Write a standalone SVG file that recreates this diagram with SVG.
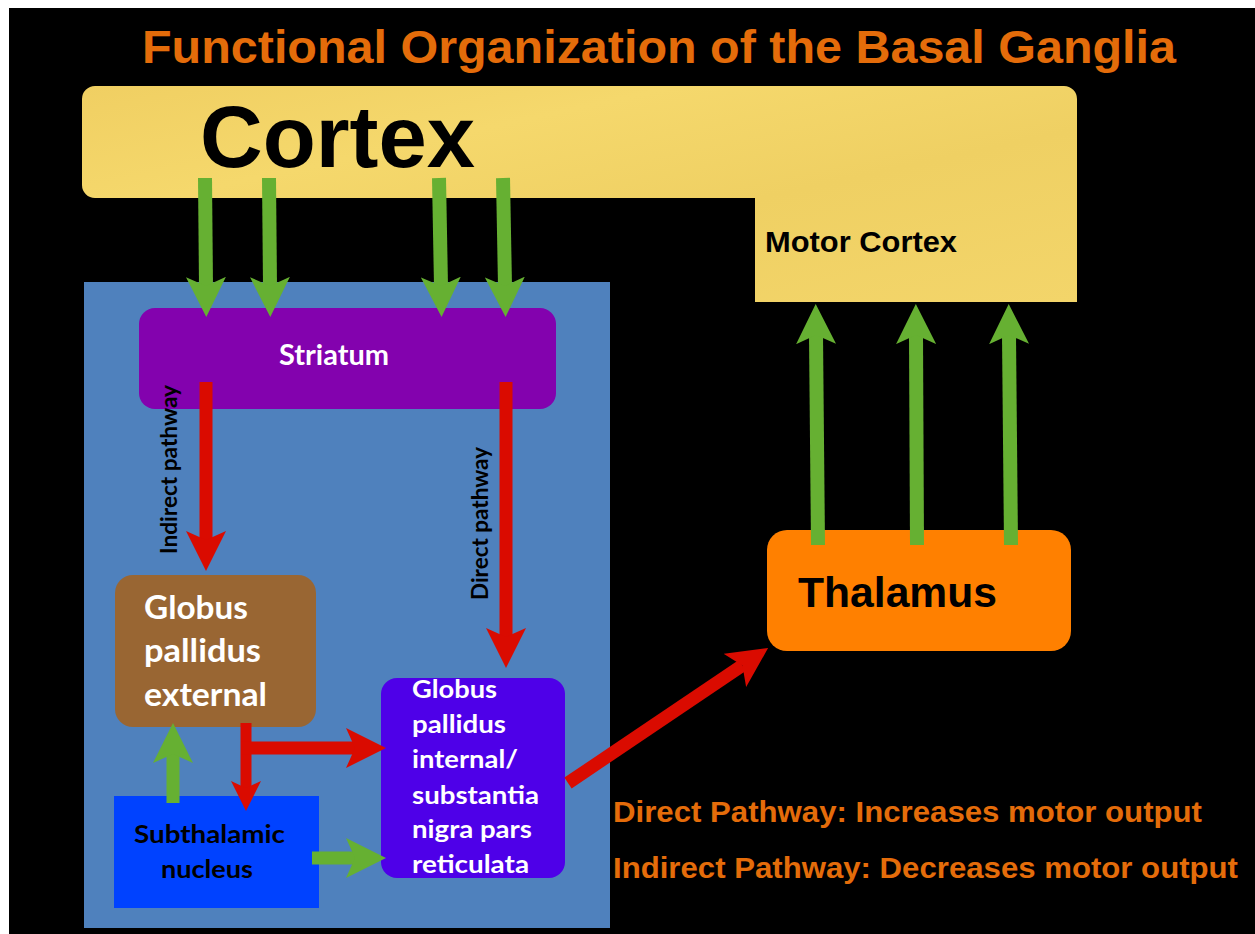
<svg xmlns="http://www.w3.org/2000/svg" width="1255" height="934" viewBox="0 0 1255 934">
<defs>
<linearGradient id="cortexGrad" x1="0" y1="0" x2="1" y2="1">
<stop offset="0" stop-color="#F0CF62"/>
<stop offset="0.3" stop-color="#F5D86C"/>
<stop offset="0.6" stop-color="#EFD063"/>
<stop offset="1" stop-color="#F3D56A"/>
</linearGradient>
<marker id="headGreen" viewBox="0 0 40 40" markerWidth="40" markerHeight="40" refX="9" refY="20" orient="auto" markerUnits="userSpaceOnUse">
<path d="M0,0 L40,20 L0,40 L9,20 Z" fill="#66B032"/>
</marker>
<marker id="headRed" viewBox="0 0 40 40" markerWidth="40" markerHeight="40" refX="9" refY="20" orient="auto" markerUnits="userSpaceOnUse">
<path d="M0,0 L40,20 L0,40 L9,20 Z" fill="#DA0B00"/>
</marker>
<marker id="headRedSmall" viewBox="0 0 30 30" markerWidth="30" markerHeight="30" refX="7" refY="15" orient="auto" markerUnits="userSpaceOnUse">
<path d="M0,0 L30,15 L0,30 L7,15 Z" fill="#DA0B00"/>
</marker>
<style>
.arial{font-family:"Liberation Sans",Arial,sans-serif;font-weight:bold}
.cal{font-family:Lato,"Open Sans",sans-serif;font-weight:bold}
.orange{fill:#E46C0A}
.white{fill:#FFFFFF}
.black{fill:#000000}
.green{stroke:#66B032;fill:none;marker-end:url(#headGreen)}
.red{stroke:#DA0B00;fill:none;marker-end:url(#headRed)}
</style>
</defs>
<rect x="0" y="0" width="1255" height="934" fill="#FFFFFF"/>
<rect x="9" y="8" width="1246" height="926" fill="#000000"/>
<text id="title" class="arial orange" x="142" y="63" font-size="47" textLength="1034" lengthAdjust="spacingAndGlyphs">Functional Organization of the Basal Ganglia</text>
<g id="cortex">
<path d="M82,99 A13,13 0 0 1 95,86 H1064 A13,13 0 0 1 1077,99 V302 H755 V198 H95 A13,13 0 0 1 82,185 Z" fill="url(#cortexGrad)"/>
<text class="arial black" x="200" y="167" font-size="87" textLength="275" lengthAdjust="spacingAndGlyphs">Cortex</text>
<text class="arial black" x="765" y="252" font-size="30" textLength="192" lengthAdjust="spacingAndGlyphs">Motor Cortex</text>
</g>
<g id="basal-ganglia-panel">
<rect x="84" y="282" width="526" height="646" fill="#4F81BD"/>
</g>
<g id="striatum">
<rect x="139" y="308" width="417" height="101" rx="16" fill="#8302AE"/>
<text class="cal white" x="279" y="365" font-size="28" textLength="110" lengthAdjust="spacingAndGlyphs">Striatum</text>
</g>
<g id="gpe">
<rect x="115" y="575" width="201" height="152" rx="18" fill="#996633"/>
<text class="cal white" font-size="32" x="144" y="619" textLength="104" lengthAdjust="spacingAndGlyphs">Globus</text>
<text class="cal white" font-size="32" x="144" y="662" textLength="117" lengthAdjust="spacingAndGlyphs">pallidus</text>
<text class="cal white" font-size="32" x="144" y="706" textLength="123" lengthAdjust="spacingAndGlyphs">external</text>
</g>
<g id="stn">
<rect x="114" y="796" width="205" height="112" fill="#0042FF"/>
<text class="cal black" font-size="25" x="134" y="843" textLength="151" lengthAdjust="spacingAndGlyphs">Subthalamic</text>
<text class="cal black" font-size="25" x="161" y="878" textLength="92" lengthAdjust="spacingAndGlyphs">nucleus</text>
</g>
<g id="gpi">
<rect x="381" y="678" width="184" height="200" rx="16" fill="#4E00E8"/>
<text class="cal white" font-size="25" x="412" y="698" textLength="85" lengthAdjust="spacingAndGlyphs">Globus</text>
<text class="cal white" font-size="25" x="412" y="733" textLength="94" lengthAdjust="spacingAndGlyphs">pallidus</text>
<text class="cal white" font-size="25" x="412" y="768" textLength="106" lengthAdjust="spacingAndGlyphs">internal/</text>
<text class="cal white" font-size="25" x="412" y="804" textLength="127" lengthAdjust="spacingAndGlyphs">substantia</text>
<text class="cal white" font-size="25" x="412" y="838" textLength="120" lengthAdjust="spacingAndGlyphs">nigra pars</text>
<text class="cal white" font-size="25" x="412" y="873" textLength="117" lengthAdjust="spacingAndGlyphs">reticulata</text>
</g>
<g id="thalamus">
<rect x="767" y="530" width="304" height="121" rx="20" fill="#FF8000"/>
<text class="arial black" x="798" y="607" font-size="42" textLength="199" lengthAdjust="spacingAndGlyphs">Thalamus</text>
</g>
<g id="connectors">
<line class="green" x1="205" y1="178" x2="206" y2="286" stroke-width="14"/>
<line class="green" x1="269" y1="178" x2="270" y2="286" stroke-width="14"/>
<line class="green" x1="439" y1="178" x2="441" y2="286" stroke-width="14"/>
<line class="green" x1="503" y1="178" x2="505" y2="286" stroke-width="14"/>
<line class="red" x1="206" y1="382" x2="206" y2="540" stroke-width="13"/>
<line class="red" x1="506" y1="382" x2="506" y2="637" stroke-width="13"/>
<line x1="246" y1="723" x2="246" y2="788" stroke="#DA0B00" stroke-width="11" marker-end="url(#headRedSmall)"/>
<line class="red" x1="241" y1="748" x2="355" y2="748" stroke-width="13"/>
<line class="green" x1="173" y1="803" x2="173" y2="754" stroke-width="13"/>
<line class="green" x1="312" y1="858" x2="355" y2="858" stroke-width="13"/>
<line class="red" x1="568" y1="783" x2="742.4" y2="665.4" stroke-width="13"/>
<line class="green" x1="818" y1="545" x2="816" y2="335" stroke-width="14"/>
<line class="green" x1="917" y1="545" x2="916" y2="335" stroke-width="14"/>
<line class="green" x1="1011" y1="545" x2="1009" y2="335" stroke-width="14"/>
</g>
<g id="labels">
<text class="cal black" font-size="22" transform="translate(177,554) rotate(-90)" textLength="169" lengthAdjust="spacingAndGlyphs">Indirect pathway</text>
<text class="cal black" font-size="22" transform="translate(488,600) rotate(-90)" textLength="153" lengthAdjust="spacingAndGlyphs">Direct pathway</text>
<text class="arial orange" x="613" y="822" font-size="30" textLength="589" lengthAdjust="spacingAndGlyphs">Direct Pathway: Increases motor output</text>
<text class="arial orange" x="613" y="878" font-size="30" textLength="625" lengthAdjust="spacingAndGlyphs">Indirect Pathway: Decreases motor output</text>
</g>
</svg>
